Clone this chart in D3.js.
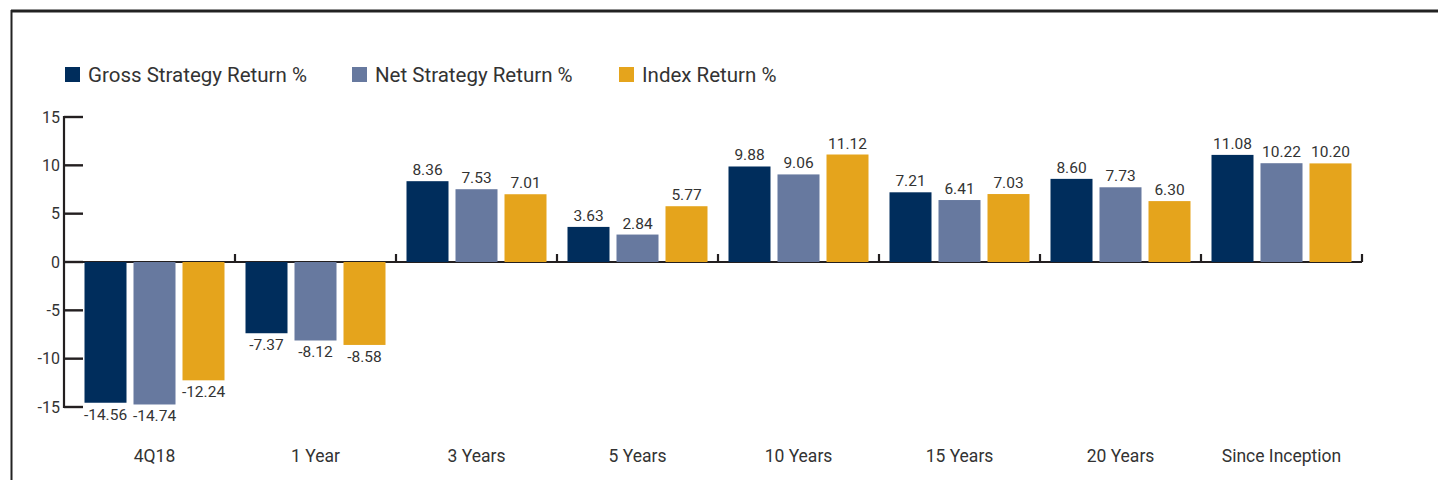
<!DOCTYPE html>
<html>
<head>
<meta charset="utf-8">
<script src="https://cdn.jsdelivr.net/npm/d3@7"></script>
<style>
  html, body { margin: 0; padding: 0; background: #fff; }
  svg { display: block; font-family: Roboto, "Noto Sans", sans-serif; }
</style>
</head>
<body>
<svg id="chart" width="1438" height="480"></svg>
<script>
const categories = ['4Q18', '1 Year', '3 Years', '5 Years', '10 Years', '15 Years', '20 Years', 'Since Inception'];
const seriesNames = ['Gross Strategy Return %', 'Net Strategy Return %', 'Index Return %'];
const grossReturn = [-14.56, -7.37, 8.36, 3.63, 9.88, 7.21, 8.60, 11.08];
const netReturn = [-14.74, -8.12, 7.53, 2.84, 9.06, 6.41, 7.73, 10.22];
const indexReturn = [-12.24, -8.58, 7.01, 5.77, 11.12, 7.03, 6.30, 10.20];
const yTicks = [-15, -10, -5, 0, 5, 10, 15];
const colors = ['#002d5c', '#67799f', '#e5a41c'];

const seriesValues = [grossReturn, netReturn, indexReturn];
const rows = categories.map((cat, i) => ({
  category: cat,
  values: seriesNames.map((name, s) => ({ name, value: seriesValues[s][i] })),
}));

const svg = d3.select('#chart');
const axisColor = '#231f20';
const textColor = '#333333';

// frame (top and left rule)
svg.append('line')
  .attr('x1', 11).attr('x2', 1438).attr('y1', 11).attr('y2', 11)
  .attr('stroke', '#222').attr('stroke-width', 3);
svg.append('line')
  .attr('x1', 11.5).attr('x2', 11.5).attr('y1', 10).attr('y2', 480)
  .attr('stroke', '#222').attr('stroke-width', 2);

const x0 = d3.scaleBand()
  .domain(categories)
  .range([74, 1362])
  .paddingInner(0)
  .paddingOuter(0);

const x1 = d3.scaleBand()
  .domain(seriesNames)
  .range([0, x0.bandwidth()])
  .paddingInner(7 / 49)
  .paddingOuter(0.2143);

const y = d3.scaleLinear()
  .domain([-15, 15])
  .range([407, 117]);

const color = d3.scaleOrdinal().domain(seriesNames).range(colors);
const fmt = (v) => v.toFixed(2);

// y axis
const yAxisX = 64;
svg.append('line')
  .attr('x1', yAxisX).attr('x2', yAxisX)
  .attr('y1', y(15) - 1).attr('y2', y(-15) + 1)
  .attr('stroke', axisColor).attr('stroke-width', 2.2);

svg.append('g')
  .selectAll('line')
  .data(yTicks)
  .join('line')
  .attr('x1', yAxisX).attr('x2', yAxisX + 19)
  .attr('y1', (d) => y(d)).attr('y2', (d) => y(d))
  .attr('stroke', axisColor).attr('stroke-width', 2.4);

svg.append('g')
  .selectAll('text')
  .data(yTicks)
  .join('text')
  .attr('x', yAxisX - 4)
  .attr('y', (d) => y(d) + 5.5)
  .attr('text-anchor', 'end')
  .attr('font-size', 16)
  .attr('fill', textColor)
  .text((d) => String(d));

// x axis (zero line) with category separators
svg.append('line')
  .attr('x1', yAxisX).attr('x2', 1362)
  .attr('y1', y(0)).attr('y2', y(0))
  .attr('stroke', axisColor).attr('stroke-width', 2.2);

svg.append('g')
  .selectAll('line')
  .data(categories)
  .join('line')
  .attr('x1', (d) => x0(d) + x0.bandwidth())
  .attr('x2', (d) => x0(d) + x0.bandwidth())
  .attr('y1', y(0)).attr('y2', y(0) - 8)
  .attr('stroke', axisColor).attr('stroke-width', 2.2);

// bars
const groups = svg.append('g')
  .selectAll('g')
  .data(rows)
  .join('g')
  .attr('transform', (d) => `translate(${x0(d.category)},0)`);

groups.selectAll('rect')
  .data((d) => d.values)
  .join('rect')
  .attr('x', (d) => x1(d.name))
  .attr('width', x1.bandwidth())
  .attr('y', (d) => y(Math.max(0, d.value)))
  .attr('height', (d) => Math.abs(y(d.value) - y(0)))
  .attr('fill', (d) => color(d.name));

groups.selectAll('text')
  .data((d) => d.values)
  .join('text')
  .attr('x', (d) => x1(d.name) + x1.bandwidth() / 2)
  .attr('y', (d) => (d.value >= 0 ? y(d.value) - 6 : y(d.value) + 17))
  .attr('text-anchor', 'middle')
  .attr('font-size', 15.5)
  .attr('fill', textColor)
  .text((d) => fmt(d.value));

// category labels
svg.append('g')
  .selectAll('text')
  .data(categories)
  .join('text')
  .attr('x', (d) => x0(d) + x0.bandwidth() / 2)
  .attr('y', 462)
  .attr('text-anchor', 'middle')
  .attr('font-size', 17.5)
  .attr('fill', textColor)
  .text((d) => d);

// legend
const legendX = [65, 352, 619];
const legend = svg.append('g')
  .selectAll('g')
  .data(seriesNames)
  .join('g')
  .attr('transform', (d, i) => `translate(${legendX[i]},67)`);

legend.append('rect')
  .attr('width', 15).attr('height', 15)
  .attr('fill', (d) => color(d));

legend.append('text')
  .attr('x', 23)
  .attr('y', 15)
  .attr('font-size', 20.5)
  .attr('fill', textColor)
  .text((d) => d);
</script>
</body>
</html>
